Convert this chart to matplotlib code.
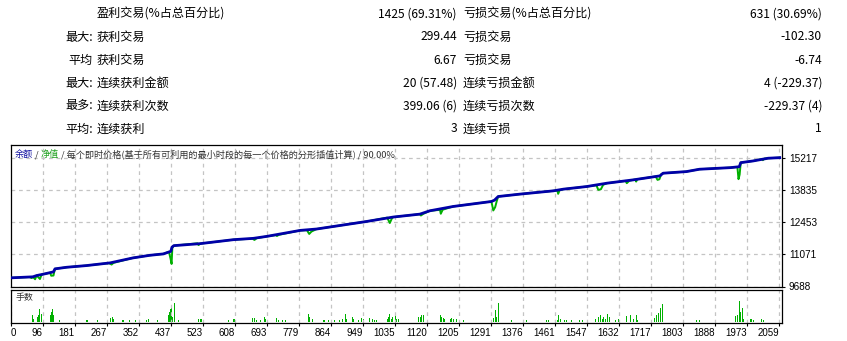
import numpy as np
import matplotlib
matplotlib.use('Agg')
import matplotlib.pyplot as plt

plt.rcParams['font.family'] = ['Noto Sans CJK SC', 'DejaVu Sans']

# summary table
row_prefix = ['', '最大:', '平均', '最大:', '最多:', '平均:']
win_labels = ['盈利交易(%占总百分比)', '获利交易', '获利交易', '连续获利金额', '连续获利次数', '连续获利']
win_values = ['1425 (69.31%)', '299.44', '6.67', '20 (57.48)', '399.06 (6)', '3']
loss_labels = ['亏损交易(%占总百分比)', '亏损交易', '亏损交易', '连续亏损金额', '连续亏损次数', '连续亏损']
loss_values = ['631 (30.69%)', '-102.30', '-6.74', '4 (-229.37)', '-229.37 (4)', '1']

# balance curve (trade number, balance)
bal_x = [11, 69, 79, 96, 124, 128, 159, 212, 275, 336, 381, 417, 437, 440, 445, 515,
         604, 657, 693, 782, 826, 960, 1030, 1101, 1128, 1190, 1292, 1300, 1310, 1368,
         1457, 1484, 1546, 1600, 1670, 1741, 1750, 1812, 1847, 1930, 1953, 1957, 1990,
         2030, 2061]
bal_y = [10061, 10104, 10159, 10215, 10318, 10447, 10515, 10588, 10704, 10918, 11030,
         11090, 11201, 11380, 11445, 11531, 11702, 11759, 11844, 12101, 12161, 12487,
         12675, 12800, 12945, 13130, 13344, 13400, 13558, 13661, 13802, 13875, 13987,
         14131, 14274, 14445, 14561, 14630, 14732, 14801, 14840, 15015, 15088, 15205,
         15230]

# equity curve with drawdowns
eq_x = [11, 60, 66, 69, 75, 79, 88, 92, 96, 115, 118, 124, 126, 128, 159, 212, 272, 279,
        284, 336, 381, 417, 432, 436, 439, 441, 445, 508, 511, 515, 604, 655, 660, 666,
        693, 717, 720, 725, 782, 800, 806, 812, 826, 960, 1014, 1021, 1026, 1030, 1101,
        1104, 1110, 1128, 1155, 1157, 1162, 1190, 1292, 1297, 1302, 1306, 1310, 1368,
        1457, 1468, 1470, 1474, 1484, 1546, 1572, 1577, 1584, 1590, 1600, 1650, 1653,
        1660, 1670, 1676, 1678, 1681, 1730, 1735, 1740, 1745, 1750, 1812, 1847, 1930,
        1948, 1951, 1954, 1957, 1990, 2013, 2016, 2020, 2030, 2061]
eq_y = [10061, 10095, 10050, 10104, 10000, 10159, 10010, 10190, 10215, 10280, 10150,
        10160, 10318, 10447, 10515, 10588, 10695, 10631, 10704, 10918, 11030, 11090,
        11180, 10900, 10661, 11350, 11445, 11545, 11470, 11531, 11702, 11745, 11690,
        11765, 11844, 11900, 11860, 11910, 12101, 12110, 11947, 12050, 12161, 12487,
        12650, 12418, 12600, 12675, 12800, 12740, 12810, 12945, 12985, 12817, 12990,
        13130, 13344, 12958, 13100, 13350, 13558, 13661, 13802, 13815, 13674, 13830,
        13875, 13987, 14045, 13845, 13870, 14060, 14131, 14230, 14131, 14240, 14274,
        14290, 14200, 14300, 14420, 14274, 14300, 14520, 14561, 14630, 14732, 14801,
        14830, 14304, 14500, 15015, 15088, 15170, 15120, 15190, 15205, 15230]

# lots per trade
vol_x = [67, 70, 81, 85, 88, 91, 115, 118, 122, 125, 140, 211, 214, 241, 277, 281, 285,
         309, 312, 328, 344, 373, 378, 402, 431, 434, 437, 439, 442, 446, 457, 511, 515,
         519, 590, 604, 608, 655, 660, 666, 677, 686, 690, 719, 725, 735, 742, 803, 806,
         814, 844, 848, 857, 873, 888, 894, 902, 906, 921, 925, 937, 946, 952, 968, 974,
         981, 986, 1014, 1018, 1021, 1025, 1029, 1036, 1040, 1045, 1098, 1102, 1106, 1110,
         1121, 1157, 1160, 1164, 1168, 1182, 1186, 1190, 1198, 1217, 1293, 1297, 1302,
         1306, 1311, 1346, 1386, 1439, 1444, 1469, 1471, 1475, 1488, 1493, 1506, 1528,
         1534, 1570, 1577, 1582, 1589, 1592, 1597, 1602, 1608, 1624, 1631, 1653, 1662,
         1672, 1678, 1681, 1728, 1733, 1737, 1742, 1748, 1804, 1839, 1848, 1944, 1949,
         1953, 1957, 1961, 1964, 1982, 1986, 1991, 2013, 2017]
vol_h = [7, 3, 5, 7, 13, 8, 7, 10, 13, 7, 2, 2, 2, 2, 4, 5, 3,
         2, 2, 2, 2, 2, 3, 2, 7, 10, 13, 14, 5, 19, 2, 3, 3,
         3, 2, 3, 3, 4, 4, 2, 2, 5, 3, 4, 2, 2, 2, 8, 5,
         3, 2, 2, 2, 2, 2, 3, 8, 3, 5, 3, 2, 4, 3, 4, 3,
         2, 2, 3, 5, 8, 3, 5, 8, 3, 3, 5, 5, 7, 7,
         2, 7, 5, 4, 3, 3, 4, 3, 3, 2, 2, 4, 12,
         5, 19, 2, 2, 2, 2, 2, 7, 3, 2, 2, 2, 2,
         2, 3, 5, 7, 3, 5, 3, 8, 5, 2, 3, 6, 7,
         3, 7, 2, 4, 7, 9, 14, 18, 2, 2, 2, 6, 7,
         21, 10, 14, 3, 3, 3, 2, 3, 2]

x_ticks = [96, 181, 267, 352, 437, 523, 608, 693, 779, 864, 949, 1035, 1120, 1205,
           1291, 1376, 1461, 1547, 1632, 1717, 1803, 1888, 1973, 2059]
y_ticks = [9688, 11071, 12453, 13835, 15217]

W, H = 847, 341
fig = plt.figure(figsize=(W / 100, H / 100), dpi=100)


def fx(px):
    return px / W


def fy(py):
    return 1 - py / H


# table text
row_y = [14, 37, 60, 83, 106, 129]
for i, y in enumerate(row_y):
    if row_prefix[i]:
        fig.text(fx(93), fy(y), row_prefix[i], ha='right', va='center', fontsize=8.7)
    fig.text(fx(97), fy(y), win_labels[i], ha='left', va='center', fontsize=8.7)
    fig.text(fx(457), fy(y), win_values[i], ha='right', va='center', fontsize=8.7)
    fig.text(fx(463), fy(y), loss_labels[i], ha='left', va='center', fontsize=8.7)
    fig.text(fx(822), fy(y), loss_values[i], ha='right', va='center', fontsize=8.7)

grid_kw = dict(color='#c4c4c4', linestyle=(0, (3, 3)), linewidth=0.9)
xlim = (10.7, 2067)

# main chart
ax = fig.add_axes([fx(11), fy(286.5), fx(782 - 11), fy(145) - fy(286.5)])
ax.plot(eq_x, eq_y, color='#00b000', linewidth=1.4, zorder=3)
ax.plot(bal_x, bal_y, color='#0000a8', linewidth=2.0, zorder=4)
ax.set_xlim(*xlim)
ax.set_ylim(9700, 15774)
ax.set_xticks(x_ticks)
ax.set_yticks(y_ticks)
ax.tick_params(axis='x', bottom=False, labelbottom=False)
ax.yaxis.tick_right()
ax.tick_params(axis='y', length=2, width=0.8, pad=3, labelsize=7.2)
for lbl in ax.get_yticklabels():
    lbl.set_fontfamily(['Liberation Sans', 'DejaVu Sans'])
ax.grid(True, **grid_kw)
for s in ax.spines.values():
    s.set_linewidth(0.9)

# title in three colours
t1 = ax.text(0.005, 0.93, '余额', transform=ax.transAxes, fontsize=6.6,
             color='#1010a0', va='center', ha='left')
t2 = ax.annotate(' / ', xy=(1, 0), xycoords=t1, fontsize=6.6, color='#333333',
                 va='bottom', ha='left')
t3 = ax.annotate('净值', xy=(1, 0), xycoords=t2, fontsize=6.6, color='#20a020',
                 va='bottom', ha='left')
ax.annotate(' / 每个即时价格(基于所有可利用的最小时段的每一个价格的分形插值计算) / 90.00%',
            xy=(1, 0), xycoords=t3, fontsize=6.6, color='#333333',
            va='bottom', ha='left')

# volume panel
vx = fig.add_axes([fx(11), fy(323), fx(782 - 11), fy(289.5) - fy(323)])
vx.bar(vol_x, vol_h, width=2.6, color='#00b000', linewidth=0)
vx.set_xlim(*xlim)
vx.set_ylim(-1.3, 32.7)
vx.set_yticks([])
vx.set_xticks([xlim[0]] + x_ticks)
vx.set_xticklabels(['0'] + [str(t) for t in x_ticks])
vx.tick_params(axis='x', length=2, width=0.8, pad=1.5, labelsize=7)
for i, lbl in enumerate(vx.get_xticklabels()):
    lbl.set_fontfamily(['Liberation Sans', 'DejaVu Sans'])
    lbl.set_ha('left' if i == 0 else 'right')
vx.xaxis.grid(True, **grid_kw)
for s in vx.spines.values():
    s.set_linewidth(0.9)
vx.text(0.006, 0.75, '手数', transform=vx.transAxes, fontsize=6.4,
        color='#333333', va='center', ha='left')

fig.savefig('out.png', dpi=100)
